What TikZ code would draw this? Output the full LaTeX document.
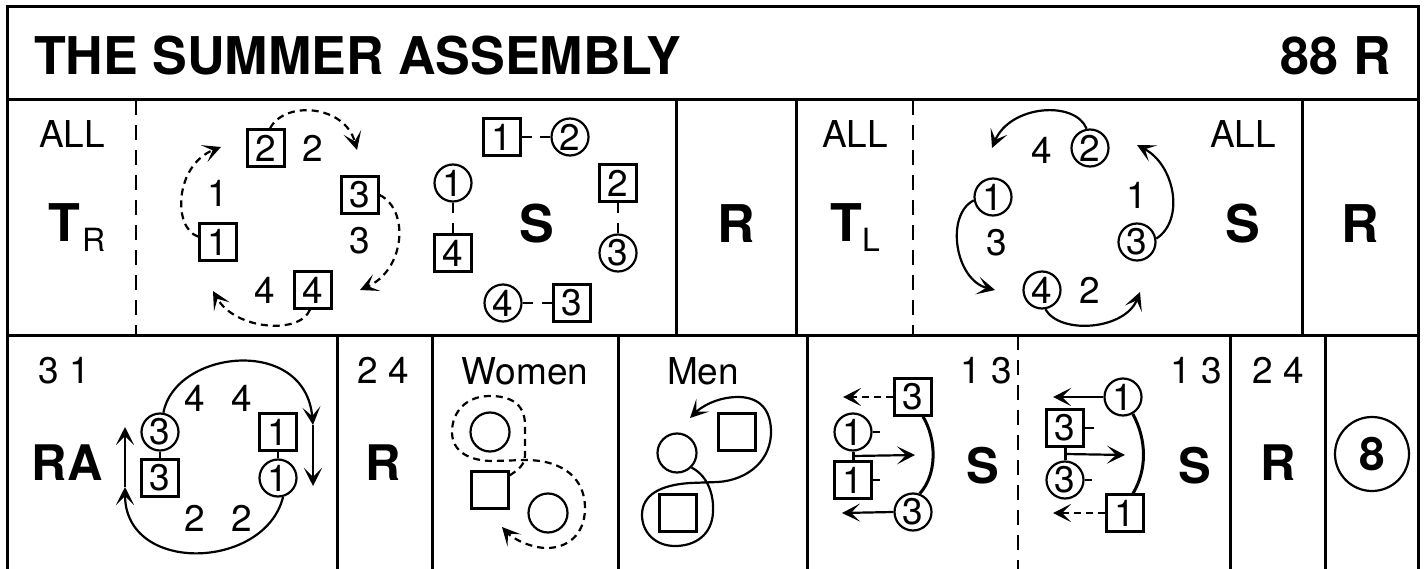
\documentclass[tikz,border=0pt]{standalone}
\usepackage{fontspec}
\setmainfont{TeX Gyre Heros}
\usetikzlibrary{arrows.meta,calc}
\newcommand\fTitle{\fontsize{52}{52}\selectfont\bfseries}
\newcommand\fBig{\fontsize{52}{52}\selectfont\bfseries}
\newcommand\fBigb{\fontsize{49}{49}\selectfont\bfseries}
\newcommand\fNum{\fontsize{37}{37}\selectfont}
\newcommand\fSub{\fontsize{32}{32}\selectfont}
\newcommand\fEight{\fontsize{46}{46}\selectfont\bfseries}
\begin{document}
\begin{tikzpicture}[x=1pt,y=-1pt,
  frame/.style={line width=3pt},
  sepline/.style={line width=2.5pt, dash pattern=on 15pt off 10pt},
  sq/.style={draw, line width=2.2pt, minimum size=37pt, inner sep=0pt, font=\fNum},
  ci/.style={draw, circle, line width=2.2pt, minimum size=37pt, inner sep=0pt, font=\fNum},
  num/.style={font=\fNum, inner sep=0pt},
  txt/.style={font=\fNum, inner sep=0pt, anchor=base},
  big/.style={font=\fBig, inner sep=0pt, anchor=base},
  bigb/.style={font=\fBigb, inner sep=0pt, anchor=base},
  arr/.style={line width=2.2pt, -{Stealth[length=18pt,width=18pt,inset=9pt]}},
  darr/.style={arr, dash pattern=on 7pt off 5pt},
  lnk/.style={line width=2.2pt},
  heavy/.style={line width=3pt}]
\useasboundingbox (0,0) rectangle (1426,569);
% frame
\draw[frame] (7,569) -- (7,7) -- (1418,7) -- (1418,569);
\draw[frame] (7,100) -- (1418,100);
\draw[frame] (7,335) -- (1418,335);
\draw[sepline] (136,100) -- (136,335);
\draw[frame] (676,100) -- (676,335);
\draw[frame] (796,100) -- (796,335);
\draw[sepline] (913,100) -- (913,335);
\draw[frame] (1302,100) -- (1302,335);
\foreach \x in {337,432,618,807,1230,1325} \draw[frame] (\x,335) -- (\x,569);
\draw[sepline] (1018,335) -- (1018,569);
% title
\node[font=\fTitle, inner sep=0pt, anchor=base west] (title) at (34,75) {THE SUMMER ASSEMBLY};
\node[font=\fTitle, inner sep=0pt, anchor=base east] (bars) at (1391,75) {88 R};
% ---- row 1 ----
\node[txt] (all1) at (72,148) {ALL};
\node[big] (T1) at (64,242) {T};
\node[font=\fSub, inner sep=0pt, anchor=base west] (R1) at (82,252) {R};
% T_R formation
\node[sq] (a2) at (266,148) {2};
\node[num] (n2) at (313,148) {2};
\node[num] (n1) at (218,193) {1};
\node[sq] (a1) at (218,242) {1};
\node[sq] (a3) at (360,195) {3};
\node[num] (n3) at (360,241) {3};
\node[sq] (a4) at (313,290) {4};
\node[num] (n4) at (265,290) {4};
\coordinate (e1) at (221,147);
\coordinate (e2) at (357,150);
\coordinate (e3) at (360,290);
\coordinate (e4) at (213,291);
\draw[darr] (a1.165) .. controls (172,228) and (175,165) .. (e1);
\draw[darr] ($(a2.north)+(4,0)$) .. controls (285,100) and (345,105) .. (e2);
\draw[darr] (a3.east) .. controls (410,210) and (405,270) .. (e3);
\draw[darr] ($(a4.south)+(-3,0)$) .. controls (300,335) and (235,330) .. (e4);
% S formation
\node[sq] (b1) at (502,137) {1};
\node[ci] (b2) at (570,137) {2};
\draw[lnk] (b1.east) -- ++(10,0);
\draw[lnk] (b2.west) -- ++(-10,0);
\node[ci] (c1) at (453,183) {1};
\node[sq] (c4) at (453,253) {4};
\draw[lnk] (c1.south) -- ++(0,10);
\draw[lnk] (c4.north) -- ++(0,-10);
\node[big] (S1) at (537,243) {S};
\node[sq] (d2) at (618,183) {2};
\node[ci] (d3) at (618,253) {3};
\draw[lnk] (d2.south) -- ++(0,10);
\draw[lnk] (d3.north) -- ++(0,-10);
\node[ci] (f4) at (503,303) {4};
\node[sq] (f3) at (572,303) {3};
\draw[lnk] (f4.east) -- ++(10,0);
\draw[lnk] (f3.west) -- ++(-10,0);
% R
\node[big] (R2) at (736,243) {R};
% T_L
\node[txt] (all2) at (855,148) {ALL};
\node[big] (T2) at (846,242) {T};
\node[font=\fSub, inner sep=0pt, anchor=base west] (L2) at (862,252) {L};
% T_L formation
\node[ci] (g1) at (993,197) {1};
\node[ci] (g2) at (1090,148) {2};
\node[ci] (g3) at (1137,242) {3};
\node[ci] (g4) at (1042,290) {4};
\node[num] (m4) at (1042,150) {4};
\node[num] (m1) at (1137,195) {1};
\node[num] (m3) at (997,243) {3};
\node[num] (m2) at (1090,290) {2};
\coordinate (h1) at (992,148);
\coordinate (h2) at (995,290);
\coordinate (h3) at (1140,292);
\coordinate (h4) at (1137,145);
\draw[arr] (g2.100) .. controls (1075,100) and (1010,105) .. (h1);
\draw[arr] (g1.190) .. controls (945,215) and (955,280) .. (h2);
\draw[arr] (g4.-80) .. controls (1060,335) and (1125,330) .. (h3);
\draw[arr] (g3.10) .. controls (1185,220) and (1175,165) .. (h4);
\node[txt] (all3) at (1243,148) {ALL};
\node[big] (S2) at (1243,243) {S};
\node[big] (R3) at (1360,243) {R};
% ---- row 2 ----
\node[txt] (p31) at (64,383) {3 1};
\node[bigb] (RA) at (67,480) {RA};
\node[ci] (k3) at (160,432) {3};
\node[sq] (q3) at (160,478) {3};
\draw[lnk] (k3.south) -- (q3.north);
\node[sq] (q1) at (278,432) {1};
\node[ci] (k1) at (278,478) {1};
\draw[lnk] (q1.south) -- (k1.north);
\node[num] (r41) at (195,398) {4};
\node[num] (r42) at (242,398) {4};
\node[num] (r21) at (195,518) {2};
\node[num] (r22) at (242,518) {2};
\coordinate (ra1) at (313,425);
\coordinate (ra2) at (313,486);
\coordinate (rb1) at (125,487);
\coordinate (rb2) at (125,427);
\draw[arr] (k3.80) .. controls (175,350) and (305,335) .. (ra1);
\draw[arr] (ra1) -- (ra2);
\draw[arr] (k1.-75) .. controls (265,570) and (125,575) .. (rb1);
\draw[arr] (rb1) -- (rb2);
\node[txt] (p24) at (383,383) {2 4};
\node[bigb] (R4) at (383,480) {R};
% Women
\node[txt] (women) at (525,384) {Women};
\node[draw, circle, line width=2.2pt, minimum size=39pt, inner sep=0pt] (w1) at (490,432) {};
\node[draw, line width=2.2pt, minimum size=37pt, inner sep=0pt] (wsq) at (490,490) {};
\node[draw, circle, line width=2.2pt, minimum size=39pt, inner sep=0pt] (w2) at (548,513) {};
\coordinate (wend) at (502,527);
\draw[darr] ($(wsq.north east)+(0,5)$) .. controls (518,470) and (525,465) .. (525,455) -- (525,425)
  .. controls (525,402) and (508,396) .. (490,396) .. controls (466,396) and (452,412) .. (452,432)
  .. controls (452,452) and (470,461) .. (493,461) -- (525,460)
  .. controls (565,460) and (585,480) .. (585,508) .. controls (585,535) and (567,548) .. (547,548)
  .. controls (530,548) and (512,538) .. (wend);
% Men
\node[txt] (men) at (703,384) {Men};
\node[draw, circle, line width=2.2pt, minimum size=39pt, inner sep=0pt] (mc) at (677,453) {};
\node[draw, line width=2.2pt, minimum size=37pt, inner sep=0pt] (ms1) at (737,432) {};
\node[draw, line width=2.2pt, minimum size=37pt, inner sep=0pt] (ms2) at (678,513) {};
\coordinate (mend) at (690,418);
\draw[arr] (mc.-45) .. controls (708,476) and (714,495) .. (713,512) .. controls (712,535) and (695,546) .. (675,546)
  .. controls (655,546) and (642,532) .. (642,515) .. controls (642,495) and (660,485) .. (690,483) -- (718,482)
  .. controls (748,480) and (772,460) .. (771,430) .. controls (770,405) and (755,397) .. (738,397)
  .. controls (716,397) and (700,408) .. (mend);
% S left
\node[txt] (p13a) at (986,383) {1 3};
\node[sq] (s3e) at (913,397) {3};
\node[ci] (c1e) at (853,432) {1};
\node[sq] (s1e) at (853,480) {1};
\node[ci] (c3e) at (913,512) {3};
\coordinate (t1) at (843,397);
\coordinate (t2) at (915,455);
\coordinate (t3) at (842,513);
\draw[darr] (s3e.west) -- (t1);
\draw[lnk] (c1e.east) -- ++(7,0);
\draw[lnk] (s1e.east) -- ++(7,0);
\draw[heavy] (c1e.south) -- (s1e.north);
\draw[arr] ($(c1e.south)!0.5!(s1e.north)$) -- (t2);
\draw[arr] (c3e.west) -- (t3);
\draw[heavy] ($(s3e.south)+(10,0)$) .. controls (937,440) and (937,475) .. (c3e.70);
\node[bigb] (S3) at (983,483) {S};
% S right
\node[txt] (p13b) at (1196,383) {1 3};
\node[ci] (c1f) at (1123,397) {1};
\node[sq] (s3f) at (1065,428) {3};
\node[ci] (c3f) at (1065,480) {3};
\node[sq] (s1f) at (1125,513) {1};
\coordinate (u1) at (1053,397);
\coordinate (u2) at (1125,455);
\coordinate (u3) at (1053,513);
\draw[arr] (c1f.west) -- (u1);
\draw[lnk] (s3f.east) -- ++(9,0);
\draw[lnk] (c3f.east) -- ++(7,0);
\draw[heavy] (s3f.south) -- (c3f.north);
\draw[arr] ($(s3f.south)!0.5!(c3f.north)$) -- (u2);
\draw[darr] (s1f.west) -- (u3);
\draw[heavy] (c1f.-60) .. controls (1147,440) and (1147,470) .. ($(s1f.north)+(8,0)$);
\node[bigb] (S4) at (1195,483) {S};
% R
\node[txt] (p24b) at (1278,383) {2 4};
\node[bigb] (R5) at (1278,480) {R};
% 8
\node[draw, circle, line width=2.2pt, minimum size=74pt, inner sep=0pt, font=\fEight] (eight) at (1372,454) {8};
\end{tikzpicture}
\end{document}
